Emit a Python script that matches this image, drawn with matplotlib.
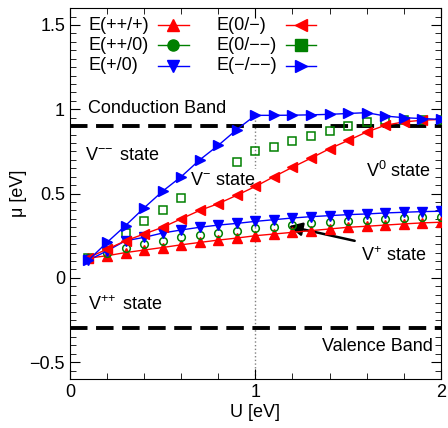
import matplotlib
matplotlib.use('Agg')
import matplotlib.pyplot as plt
from matplotlib.lines import Line2D
from matplotlib.ticker import MultipleLocator

plt.rcParams['font.family'] = ['Liberation Sans', 'DejaVu Sans']
plt.rcParams['mathtext.fontset'] = 'custom'
plt.rcParams['mathtext.rm'] = 'Liberation Sans'
plt.rcParams['mathtext.it'] = 'Liberation Sans'
plt.rcParams['font.size'] = 13

U = [0.1, 0.2, 0.3, 0.4, 0.5, 0.6, 0.7, 0.8, 0.9, 1.0,
     1.1, 1.2, 1.3, 1.4, 1.5, 1.6, 1.7, 1.8, 1.9, 2.0]

e_pp_p = [0.117, 0.131, 0.15, 0.165, 0.18, 0.196, 0.21, 0.224, 0.236, 0.25,
          0.26, 0.27, 0.28, 0.29, 0.30, 0.306, 0.313, 0.32, 0.326, 0.33]
e_pp_0 = [0.12, 0.15, 0.18, 0.20, 0.22, 0.24, 0.254, 0.266, 0.28, 0.294,
          0.304, 0.313, 0.323, 0.329, 0.335, 0.343, 0.347, 0.353, 0.359, 0.363]
e_p_0 = [0.105, 0.16, 0.22, 0.24, 0.266, 0.284, 0.30, 0.313, 0.323, 0.335,
         0.345, 0.355, 0.363, 0.369, 0.375, 0.379, 0.385, 0.389, 0.393, 0.395]
e_0_m = [0.12, 0.17, 0.22, 0.26, 0.30, 0.35, 0.40, 0.44, 0.49, 0.542,
         0.60, 0.656, 0.71, 0.766, 0.815, 0.865, 0.905, 0.925, 0.935, 0.94]
e_0_mm = [0.12, 0.19, 0.264, 0.34, 0.40, 0.474, 0.545, 0.615, 0.686, 0.752,
          0.776, 0.811, 0.841, 0.869, 0.899, 0.925, 0.935, 0.938, 0.938, 0.938]
e_m_mm = [0.105, 0.21, 0.31, 0.415, 0.514, 0.60, 0.70, 0.786, 0.88, 0.964,
          0.964, 0.965, 0.967, 0.97, 0.975, 0.98, 0.96, 0.95, 0.945, 0.94]

cb = 0.9
vb = -0.3

leg_labels = ['E(++/+)', 'E(++/0)', 'E(+/0)',
              'E(0/\u2212)', 'E(0/\u2212\u2212)', 'E(\u2212/\u2212\u2212)']
leg_colors = ['red', 'green', 'blue', 'red', 'green', 'blue']
leg_markers = ['^', 'o', 'v', '<', 's', '>']

fig = plt.figure(figsize=(4.48, 4.28), dpi=100)
ax = fig.add_axes([0.156, 0.1145, 0.828, 0.8665])

ax.axhline(cb, color='black', lw=2.8, dashes=(4.5, 2.2), zorder=2)
ax.axhline(vb, color='black', lw=2.8, dashes=(4.5, 2.2), zorder=2)
ax.plot([1, 1], [-0.6, 0.95], color='gray', lw=1, ls=':', zorder=1)

ms = 6.5
ax.plot(U, e_pp_p, color='red', lw=1, marker='^', ms=ms, zorder=4)
ax.plot(U, e_pp_0, ls='none', marker='o', ms=5.5, mfc='none', mec='green', mew=1.1, zorder=4)
ax.plot(U, e_p_0, color='blue', lw=1, marker='v', ms=ms, zorder=4)
ax.plot(U, e_0_m, color='red', lw=1, marker='<', ms=ms, zorder=4)
ax.plot(U, e_0_mm, ls='none', marker='s', ms=5.5, mfc='none', mec='green', mew=1.1, zorder=3)
ax.plot(U, e_m_mm, color='blue', lw=1, marker='>', ms=ms, zorder=4)

# legend drawn by hand: text first, then line+marker, left-aligned text
row_y = [0.954, 0.900, 0.844]
col_text_x = [0.051, 0.395]
col_line_x = [(0.237, 0.321), (0.582, 0.663)]
for i, (lab, c, m) in enumerate(zip(leg_labels, leg_colors, leg_markers)):
    col, row = divmod(i, 3)
    ax.text(col_text_x[col], row_y[row], lab, transform=ax.transAxes,
            ha='left', va='center')
    x0, x1 = col_line_x[col]
    ax.add_line(Line2D([x0, x1], [row_y[row]] * 2, color=c, lw=1,
                       transform=ax.transAxes))
    ax.add_line(Line2D([(x0 + x1) / 2], [row_y[row]], color=c, marker=m, ms=8,
                       ls='none', transform=ax.transAxes))

ax.text(0.1, 1.005, 'Conduction Band', va='center', ha='left')
ax.text(1.955, -0.41, 'Valence Band', va='center', ha='right')
ax.text(0.08, 0.726, 'V$^{-\!-}$ state', va='center', ha='left')
# white box sits above the open squares but under the coloured lines
ax.text(0.65, 0.577, 'V$^{-}$ state', va='center', ha='left', zorder=3.5,
        bbox=dict(fc='white', ec='none', pad=2.5))
ax.text(1.595, 0.637, 'V$^0$ state', va='center', ha='left')
ax.text(1.57, 0.13, 'V$^{+}$ state', va='center', ha='left')
ax.text(0.1, -0.157, 'V$^{+\!+}$ state', va='center', ha='left')
ax.annotate('', xy=(1.165, 0.31), xytext=(1.55, 0.216),
            arrowprops=dict(arrowstyle='-|>', color='black', lw=1.8, mutation_scale=20))

ax.set_xlim(0, 2)
ax.set_ylim(-0.6, 1.6)
ax.xaxis.set_major_locator(MultipleLocator(1))
ax.xaxis.set_minor_locator(MultipleLocator(0.2))
ax.yaxis.set_minor_locator(MultipleLocator(0.05))
ax.set_yticks([-0.5, 0, 0.5, 1, 1.5])
ax.set_yticklabels(['\u22120.5', '0', '0.5', '1', '1.5'])
ax.tick_params(which='both', direction='in', top=True, right=True)
ax.tick_params(which='major', length=7)
ax.tick_params(which='minor', length=4)
ax.set_xlabel('U [eV]', labelpad=2)
ax.set_ylabel('\u03bc [eV]', labelpad=2)

fig.savefig('out.png', dpi=100)
